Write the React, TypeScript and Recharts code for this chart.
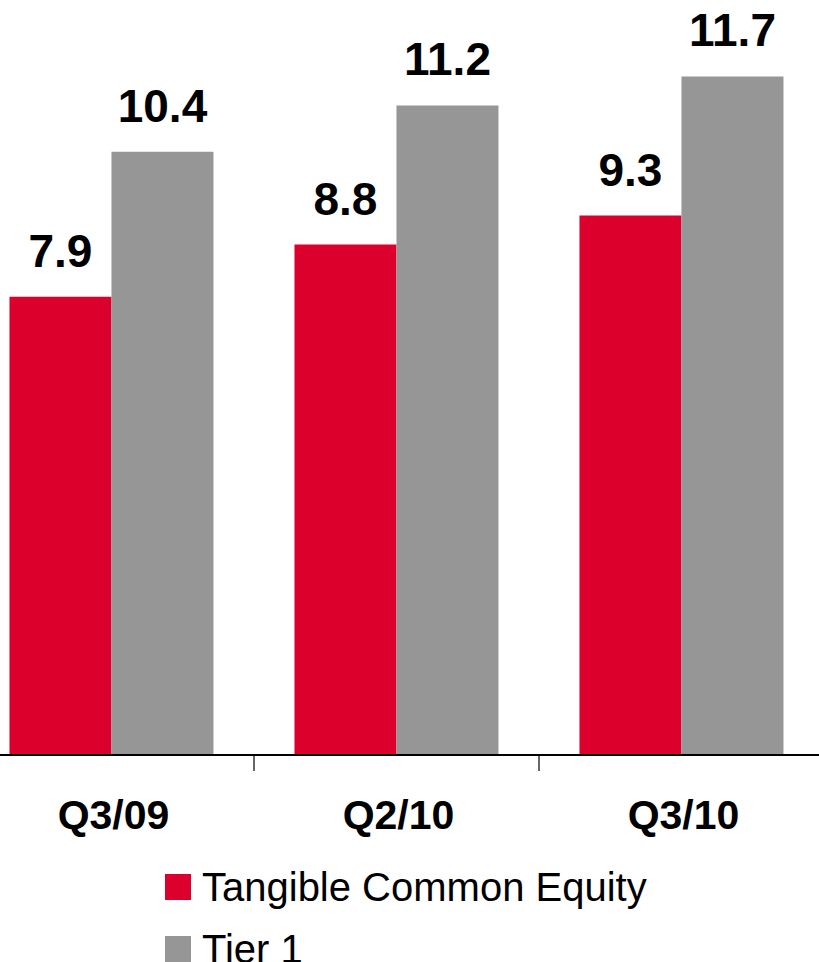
import React from 'react';
import { BarChart, Bar, XAxis, YAxis, Legend, LabelList } from 'recharts';

const quarters = ['Q3/09', 'Q2/10', 'Q3/10'];
const tangibleCommonEquity = [7.9, 8.8, 9.3];
const tier1 = [10.4, 11.2, 11.7];

const RED = '#DC002D';
const GRAY = '#969696';
const FONT = '"Liberation Sans", Arial, sans-serif';

const data = quarters.map((q, i) => ({
  quarter: q,
  tce: tangibleCommonEquity[i],
  tier1: tier1[i],
}));

// chart is shifted left so the first band starts off-screen, like the slide
const SHIFT = 31;
const CHART_W = 855;
const BAND = CHART_W / quarters.length;

const CategoryTick = (props: any) => {
  const { x, y, payload } = props;
  return (
    <g>
      <line x1={x - BAND / 2} x2={x - BAND / 2} y1={y} y2={y + 16} stroke="#000" strokeWidth={1.2} />
      <text
        x={x + 2}
        y={y + 74}
        textAnchor="middle"
        fontFamily={FONT}
        fontWeight="bold"
        fontSize={41}
        fill="#000"
      >
        {payload.value}
      </text>
    </g>
  );
};

const LegendBox = (props: any) => {
  const { payload } = props;
  return (
    <div style={{ fontFamily: FONT }}>
      {(payload || []).map((p: any) => (
        <div key={p.value} style={{ position: 'relative', height: 62 }}>
          <div style={{ position: 'absolute', left: 0, top: 0, width: 26, height: 26, background: p.color }} />
          <span
            style={{
              position: 'absolute',
              left: 37,
              top: -7,
              fontSize: 40,
              lineHeight: '40px',
              color: '#000',
              whiteSpace: 'nowrap',
            }}
          >
            {p.value}
          </span>
        </div>
      ))}
    </div>
  );
};

const App: React.FC = () => {
  return (
    <div style={{ position: 'absolute', left: 0, top: 0, width: 819, height: 962, overflow: 'hidden', background: '#fff' }}>
      <div style={{ position: 'absolute', left: -SHIFT, top: 0 }}>
        <BarChart
          width={CHART_W}
          height={962}
          data={data}
          margin={{ top: 1, right: 0, left: 0, bottom: 107 }}
          barCategoryGap="14.2%"
          barGap={0}
        >
          <XAxis
            dataKey="quarter"
            height={100}
            axisLine={{ stroke: '#000', strokeWidth: 2 }}
            tickLine={false}
            tickSize={0}
            tickMargin={0}
            tick={<CategoryTick />}
            interval={0}
          />
          <YAxis hide domain={[0, 13]} />
          <Legend
            layout="vertical"
            align="center"
            verticalAlign="middle"
            content={<LegendBox />}
            wrapperStyle={{ position: 'absolute', left: 165 + SHIFT, top: 874, width: 600, height: 88 }}
          />
          <Bar dataKey="tce" name="Tangible Common Equity" fill={RED} isAnimationActive={false}>
            <LabelList
              dataKey="tce"
              position="top"
              offset={30}
              fill="#000"
              fontFamily={FONT}
              fontWeight="bold"
              fontSize={46}
            />
          </Bar>
          <Bar dataKey="tier1" name="Tier 1" fill={GRAY} isAnimationActive={false}>
            <LabelList
              dataKey="tier1"
              position="top"
              offset={30}
              fill="#000"
              fontFamily={FONT}
              fontWeight="bold"
              fontSize={46}
            />
          </Bar>
        </BarChart>
      </div>
    </div>
  );
};

export default App;
